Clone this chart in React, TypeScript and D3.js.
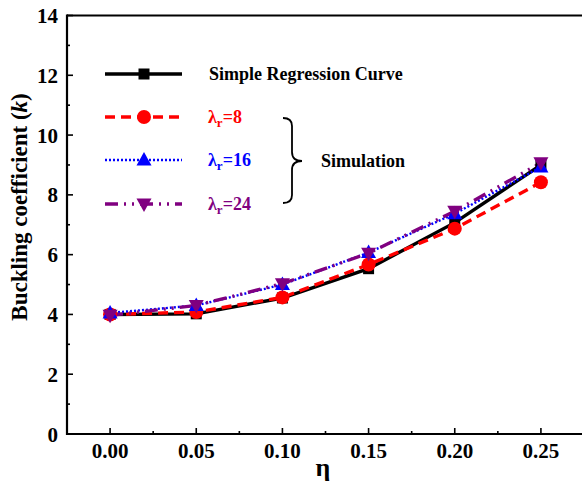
import React from "react";
import * as d3 from "d3";

const etaValues = [0, 0.05, 0.1, 0.15, 0.2, 0.25];
const regression = [4.0, 4.02, 4.55, 5.53, 7.07, 9.0];
const lambda8 = [4.0, 4.08, 4.57, 5.67, 6.87, 8.42];
const lambda16 = [4.05, 4.3, 5.0, 6.07, 7.37, 8.93];
const lambda24 = [3.97, 4.3, 5.03, 6.05, 7.45, 9.07];
const xTicks = [0, 0.05, 0.1, 0.15, 0.2, 0.25];
const yTicks = [0, 2, 4, 6, 8, 10, 12, 14];

const W = 582;
const H = 488;
const FONT = "'Liberation Serif', 'Times New Roman', serif";

export default function App() {
  const x = d3.scaleLinear().domain([-0.025, 0.275]).range([67, 584]);
  const y = d3.scaleLinear().domain([0, 14]).range([434, 15.5]);
  const line = d3
    .line<number>()
    .x((_, i) => x(etaValues[i]))
    .y((d) => y(d));

  const series = [
    { name: "reg", data: regression, color: "#000000", dash: "", width: 3.4, marker: "square" },
    { name: "l8", data: lambda8, color: "#ff0000", dash: "10,6", width: 3.4, marker: "circle" },
    { name: "l16", data: lambda16, color: "#0000ff", dash: "2,2", width: 2.4, marker: "up" },
    { name: "l24", data: lambda24, color: "#800080", dash: "13,6,2,6,2,6", width: 3.4, marker: "down" },
  ];

  const marker = (type: string, cx: number, cy: number, color: string, key: string) => {
    if (type === "square") return <rect key={key} x={cx - 5.5} y={cy - 5.5} width={11} height={11} fill={color} />;
    if (type === "circle") return <circle key={key} cx={cx} cy={cy} r={7} fill={color} />;
    if (type === "up")
      return <path key={key} d={`M${cx},${cy - 8}L${cx + 7.5},${cy + 5.5}L${cx - 7.5},${cy + 5.5}Z`} fill={color} />;
    return <path key={key} d={`M${cx},${cy + 8}L${cx + 7.5},${cy - 5.5}L${cx - 7.5},${cy - 5.5}Z`} fill={color} />;
  };

  const minorX = d3.range(-0.025, 0.2751, 0.025).filter((v) => Math.abs(Math.round(v / 0.05) * 0.05 - v) > 1e-6);
  const minorY = [1, 3, 5, 7, 9, 11, 13];

  const legendItems = [
    { s: series[0], y: 74, label: null as any },
    { s: series[1], y: 117, label: "8" },
    { s: series[2], y: 160, label: "16" },
    { s: series[3], y: 204, label: "24" },
  ];

  return (
    <svg width={W} height={H} style={{ position: "absolute", left: 0, top: 0 }} fontFamily={FONT}>
      <rect width={W} height={H} fill="#fff" />
      {/* lines */}
      {series.map((s) => (
        <path
          key={s.name}
          d={line(s.data) || ""}
          fill="none"
          stroke={s.color}
          strokeWidth={s.width}
          strokeDasharray={s.dash}
        />
      ))}
      {series.map((s) => s.data.map((v, i) => marker(s.marker, x(etaValues[i]), y(v), s.color, s.name + i)))}

      {/* axes */}
      <line x1={67} x2={582} y1={434} y2={434} stroke="#000" strokeWidth={2.2} />
      <line x1={67} x2={582} y1={15.5} y2={15.5} stroke="#000" strokeWidth={2.2} />
      <line x1={67} x2={67} y1={14.4} y2={435.1} stroke="#000" strokeWidth={2.2} />
      {xTicks.map((t) => (
        <g key={"xt" + t}>
          <line x1={x(t)} x2={x(t)} y1={434} y2={428} stroke="#000" strokeWidth={1.6} />
          <text x={x(t)} y={458} textAnchor="middle" fontWeight="bold" fontSize={21}>
            {t.toFixed(2)}
          </text>
        </g>
      ))}
      {minorX.map((t) => (
        <line key={"xm" + t} x1={x(t)} x2={x(t)} y1={434} y2={431} stroke="#000" strokeWidth={1.6} />
      ))}
      {yTicks.map((t) => (
        <g key={"yt" + t}>
          <line x1={67} x2={73} y1={y(t)} y2={y(t)} stroke="#000" strokeWidth={1.6} />
          <text x={58} y={y(t) + 7.5} textAnchor="end" fontWeight="bold" fontSize={21}>
            {t}
          </text>
        </g>
      ))}
      {minorY.map((t) => (
        <line key={"ym" + t} x1={67} x2={70} y1={y(t)} y2={y(t)} stroke="#000" strokeWidth={1.6} />
      ))}

      {/* axis titles */}
      <text
        transform={`translate(27,207) rotate(-90)`}
        textAnchor="middle"
        fontWeight="bold"
        fontSize={23}
      >
        Buckling coefficient (<tspan fontStyle="italic">k</tspan>)
      </text>
      <text x={323} y={476} textAnchor="middle" fontWeight="bold" fontSize={26}>
        η
      </text>

      {/* legend */}
      {legendItems.map((it) => (
        <g key={"lg" + it.s.name}>
          <line
            x1={105}
            x2={182}
            y1={it.y}
            y2={it.y}
            stroke={it.s.color}
            strokeWidth={it.s.width}
            strokeDasharray={it.s.dash}
          />
          {marker(it.s.marker, 144, it.y, it.s.color, "lm" + it.s.name)}
          {it.label === null ? (
            <text x={209} y={it.y + 6} fontWeight="bold" fontSize={18}>
              Simple Regression Curve
            </text>
          ) : (
            <text x={208} y={it.y + 6} fontWeight="bold" fontSize={18} fill={it.s.color}>
              λ
              <tspan fontSize={13} dy={4}>
                r
              </tspan>
              <tspan dy={-4}>={it.label}</tspan>
            </text>
          )}
        </g>
      ))}
      <path
        d="M283,118 Q292,118 292,126 L292,152 Q292,161 302,161 Q292,161 292,170 L292,195 Q292,203 283,203"
        fill="none"
        stroke="#000"
        strokeWidth={1.8}
      />
      <text x={321} y={167} fontWeight="bold" fontSize={18}>
        Simulation
      </text>
    </svg>
  );
}
